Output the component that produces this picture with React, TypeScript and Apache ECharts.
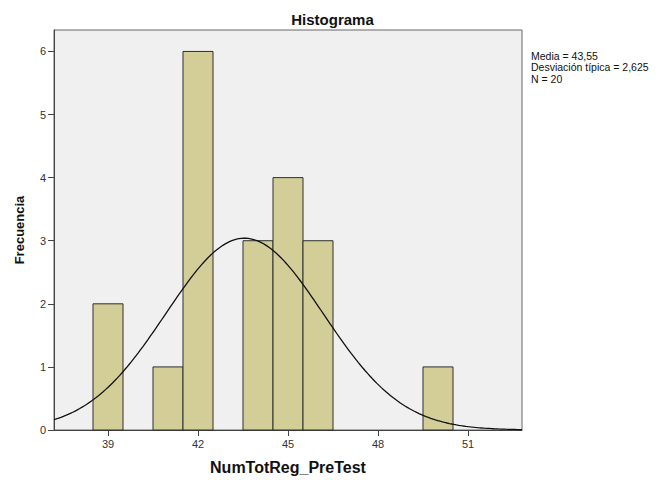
import React, { useEffect, useRef } from "react";
import * as echarts from "echarts";

// Histogram data (bin centers, bin width 1)
const binCenters = [39, 41, 42, 44, 45, 46, 50];
const frequencies = [2, 1, 6, 3, 4, 3, 1];
const binWidth = 1;

// Summary statistics shown in the chart
const mean = 43.55;
const stdDev = 2.625;
const sampleSize = 20;

const xTickValues = [39, 42, 45, 48, 51];
const statLines = ["Media = 43,55", "Desviación típica = 2,625", "N = 20"];

const X_MIN = 37.2;
const X_MAX = 52.8;

// Fitted normal curve from the stated mean / sd / N
function normalCurve(): number[][] {
  const pts: number[][] = [];
  const steps = 200;
  for (let i = 0; i <= steps; i++) {
    const x = X_MIN + ((X_MAX - X_MIN) * i) / steps;
    const z = (x - mean) / stdDev;
    const y = (sampleSize * binWidth * Math.exp(-0.5 * z * z)) / (stdDev * Math.sqrt(2 * Math.PI));
    pts.push([x, y]);
  }
  return pts;
}

const FONT = "'Liberation Sans', Arial, sans-serif";

export default function App() {
  const ref = useRef<HTMLDivElement>(null);
  useEffect(() => {
    if (!ref.current) return;
    const chart = echarts.init(ref.current, undefined, { renderer: "svg" });
    const barData = binCenters.map((c, i) => [c, frequencies[i]]);
    chart.setOption({
      animation: false,
      backgroundColor: "#ffffff",
      title: {
        text: "Histograma",
        left: "center",
        top: 7,
        textStyle: { fontFamily: FONT, fontSize: 15, fontWeight: "bold", color: "#111" },
      },
      grid: {
        left: 54,
        right: 143,
        top: 30,
        bottom: 47,
        show: true,
        backgroundColor: "#f0f0f0",
        borderColor: "#666",
        borderWidth: 1,
        containLabel: false,
      },
      xAxis: {
        type: "value",
        min: X_MIN,
        max: X_MAX,
        name: "NumTotReg_PreTest",
        nameLocation: "middle",
        nameGap: 29,
        nameTextStyle: { fontFamily: FONT, fontSize: 16, fontWeight: "bold", color: "#111" },
        axisLine: { show: true, lineStyle: { color: "#444", width: 1 } },
        axisTick: { show: true, length: 6, customValues: xTickValues, lineStyle: { color: "#444" } },
        axisLabel: { customValues: xTickValues, fontFamily: FONT, fontSize: 11, color: "#333", margin: 8 },
        splitLine: { show: false },
      },
      yAxis: {
        type: "value",
        min: 0,
        max: 6.34,
        interval: 1,
        name: "Frecuencia",
        nameLocation: "middle",
        nameGap: 28,
        nameTextStyle: { fontFamily: FONT, fontSize: 13, fontWeight: "bold", color: "#111" },
        axisLine: { show: true, lineStyle: { color: "#444", width: 1 } },
        axisTick: { show: true, length: 6, lineStyle: { color: "#444" } },
        axisLabel: {
          fontFamily: FONT,
          fontSize: 11,
          color: "#333",
          margin: 8,
          showMaxLabel: false,
          formatter: (v: number) => (Number.isInteger(v) ? String(v) : ""),
        },
        splitLine: { show: false },
      },
      graphic: statLines.map((t, i) => ({
        type: "text",
        left: 531,
        top: 50 + i * 11.5,
        style: { text: t, fontFamily: FONT, fontSize: 10.5, fill: "#111" },
      })),
      series: [
        {
          type: "custom",
          data: barData,
          z: 2,
          renderItem: (_params: any, api: any) => {
            const x = api.value(0);
            const y = api.value(1);
            const p0 = api.coord([x - binWidth / 2, y]);
            const p1 = api.coord([x + binWidth / 2, 0]);
            return {
              type: "rect",
              shape: { x: p0[0], y: p0[1], width: p1[0] - p0[0], height: p1[1] - p0[1] },
              style: { fill: "#d3ce98", stroke: "#2e2e2e", lineWidth: 1 },
            };
          },
        },
        {
          type: "line",
          data: normalCurve(),
          showSymbol: false,
          symbol: "none",
          z: 3,
          lineStyle: { color: "#111", width: 1.3 },
        },
      ],
    });
    return () => chart.dispose();
  }, []);
  return (
    <div
      ref={ref}
      style={{ position: "fixed", left: 0, top: 0, width: 665, height: 480 }}
    />
  );
}
